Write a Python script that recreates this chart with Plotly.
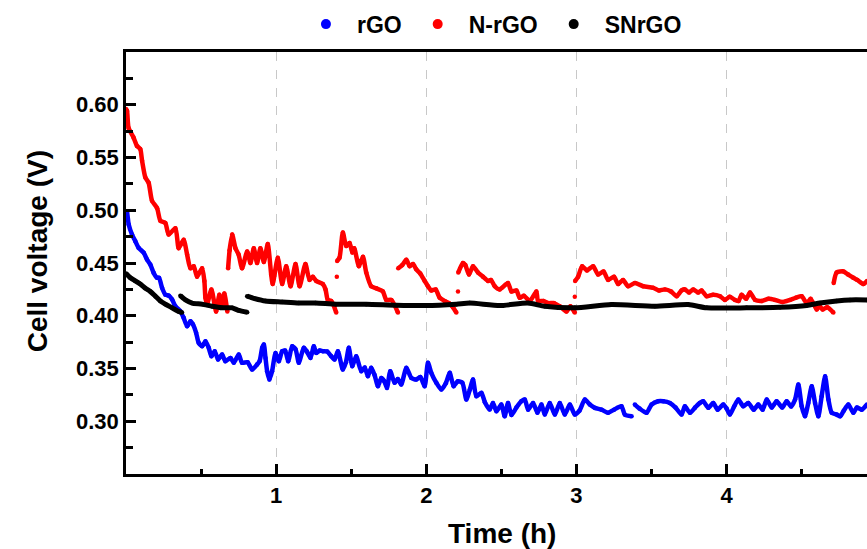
import plotly.graph_objects as go

# ---- data; None marks a break in the record ----
rgo_t = [0.0, 0.007, 0.018, 0.04, 0.062, 0.084, 0.118, 0.14, 0.162, 0.184, 0.207, 0.22, 0.24, 0.262, 0.285,
         0.307, 0.329, 0.362, 0.384, 0.407, 0.429, 0.445, 0.467, 0.484, 0.507, 0.529, 0.551, 0.569, 0.591,
         0.613, 0.64, 0.662, 0.696, 0.718, 0.751, 0.773, 0.81, 0.84, 0.873, 0.89, 0.907, 0.918, 0.929, 0.94,
         0.955, 0.973, 0.996, 1.018, 1.04, 1.06, 1.08, 1.107, 1.13, 1.151, 1.184, 1.205, 1.229, 1.251, 1.267,
         1.29, 1.311, 1.34, 1.367, 1.389, 1.411, 1.444, 1.465, 1.484, 1.507, 1.533, 1.567, 1.59, 1.611, 1.633,
         1.655, 1.678, 1.7, 1.72, 1.738, 1.76, 1.789, 1.81, 1.833, 1.867, 1.9, 1.933, 1.96, 1.989, 2.011,
         2.033, 2.067, 2.1, 2.13, 2.156, 2.182, 2.21, 2.24, 2.267, 2.29, 2.311, 2.333, 2.367, 2.39, 2.422,
         2.444, 2.467, 2.5, 2.522, 2.544, 2.567, 2.6, 2.633, 2.656, 2.678, 2.711, 2.74, 2.767, 2.789, 2.822,
         2.856, 2.889, 2.922, 2.956, 2.989, 3.02, 3.056, 3.089, 3.122, 3.167, 3.211, 3.25, 3.3, 3.322, 3.367,
         None, 3.389, 3.42, 3.467, 3.5, 3.544, 3.578, 3.622, 3.66, 3.7, 3.722, 3.756, 3.79, 3.822, 3.844,
         3.878, 3.911, 3.94, 3.978, 4.0, 4.022, 4.05, 4.078, 4.111, 4.144, 4.18, 4.211, 4.24, 4.267, 4.3,
         4.333, 4.37, 4.4, 4.43, 4.456, 4.478, 4.5, 4.522, 4.544, 4.567, 4.589, 4.611, 4.633, 4.656, 4.678,
         4.7, 4.733, 4.756, 4.78, 4.811, 4.844, 4.867, 4.9, 4.935]
rgo_v = [0.499, 0.4976, 0.4865, 0.477, 0.4707, 0.4644, 0.4597, 0.4533, 0.4486, 0.4407, 0.436, 0.436, 0.4265,
         0.420, 0.419, 0.4154, 0.409, 0.4043, 0.398, 0.390, 0.3948, 0.392, 0.3838, 0.3743, 0.3711, 0.3758,
         0.3696, 0.3616, 0.3664, 0.3585, 0.3632, 0.3569, 0.360, 0.3554, 0.3632, 0.3554, 0.356, 0.349, 0.3538,
         0.357, 0.3696, 0.3727, 0.360, 0.3474, 0.3395, 0.3474, 0.3648, 0.3569, 0.3664, 0.367, 0.3569, 0.3711,
         0.368, 0.3554, 0.3696, 0.366, 0.360, 0.3711, 0.3648, 0.367, 0.3664, 0.366, 0.3616, 0.3585, 0.3664,
         0.349, 0.356, 0.3696, 0.3522, 0.3616, 0.3474, 0.351, 0.3427, 0.3506, 0.344, 0.3332, 0.341, 0.338,
         0.3316, 0.3474, 0.3364, 0.340, 0.3348, 0.3506, 0.3411, 0.3395, 0.342, 0.3332, 0.3555, 0.3459, 0.3364,
         0.330, 0.336, 0.3459, 0.3332, 0.338, 0.3364, 0.3206, 0.330, 0.3395, 0.3237, 0.3269, 0.318, 0.3111,
         0.3174, 0.3095, 0.3158, 0.3047, 0.3174, 0.306, 0.313, 0.319, 0.3206, 0.311, 0.3174, 0.308, 0.3158,
         0.3063, 0.3174, 0.3063, 0.3174, 0.3063, 0.3158, 0.3063, 0.310, 0.3206, 0.3158, 0.3127, 0.311, 0.308,
         0.311, 0.3142, 0.3063, 0.3047, None, 0.3158, 0.312, 0.308, 0.3158, 0.319, 0.319, 0.3174, 0.313,
         0.3063, 0.3142, 0.308, 0.313, 0.3174, 0.319, 0.3127, 0.3174, 0.311, 0.3158, 0.312, 0.3063, 0.314,
         0.3206, 0.3142, 0.3174, 0.311, 0.3158, 0.311, 0.3206, 0.313, 0.319, 0.313, 0.319, 0.314, 0.3206,
         0.3348, 0.3142, 0.3047, 0.3174, 0.3332, 0.3174, 0.3047, 0.3237, 0.3427, 0.3206, 0.308, 0.3063, 0.3047,
         0.310, 0.3158, 0.308, 0.313, 0.311, 0.3158]

nrgo_t = [0.0, 0.007, 0.017, 0.05, 0.073, 0.095, 0.107, 0.129, 0.151, 0.173, 0.207, 0.229, 0.262, 0.284, 0.329,
          0.351, 0.384, 0.407, 0.429, 0.451, 0.473, 0.507, 0.522, 0.529, 0.54, 0.569, 0.6, 0.622, 0.64, 0.655,
          0.675, None,
          0.68, 0.69, 0.707, 0.729, 0.75, 0.773, 0.807, 0.829, 0.851, 0.873, 0.895, 0.918, 0.944, 0.967, 0.977,
          1.011, 1.04, 1.067, 1.096, 1.129, 1.156, 1.195, 1.222, 1.244, 1.267, 1.311, 1.329, 1.344, 1.367,
          1.38, 1.4, None,
          1.404, None,
          1.406, 1.422, 1.444, 1.467, 1.489, 1.507, 1.52, 1.551, 1.578, 1.6, 1.633, 1.667, 1.711, 1.733, 1.767,
          1.811, None,
          1.813, 1.84, 1.867, 1.889, 1.911, 1.933, 1.96, 1.989, 2.011, 2.033, 2.062, 2.089, 2.122, 2.15, 2.178,
          2.2, None,
          2.211, None,
          2.213, 2.244, 2.26, 2.284, 2.311, 2.344, 2.378, 2.411, 2.43, 2.456, 2.489, 2.544, 2.567, 2.6, 2.622,
          2.65, 2.689, 2.733, 2.744, 2.78, 2.811, 2.85, 2.889, 2.933, 2.96, 2.989, None,
          2.989, None,
          2.991, 3.011, 3.038, 3.07, 3.111, 3.144, 3.18, 3.211, 3.25, 3.278, 3.31, 3.344, 3.39, 3.444, 3.511,
          3.55, 3.589, 3.63, 3.667, 3.7, 3.722, 3.75, 3.778, 3.81, 3.833, 3.867, 3.91, 3.956, 3.989, 4.02,
          4.056, 4.08, 4.1, 4.13, 4.156, 4.19, 4.233, 4.28, 4.322, 4.37, 4.422, 4.46, 4.5, 4.533, 4.56, 4.6,
          4.62, 4.64, 4.67, 4.711, None,
          4.713, 4.733, 4.778, 4.81, 4.844, 4.87, 4.911, 4.935]
nrgo_v = [0.596, 0.594, 0.578, 0.569, 0.561, 0.558, 0.547, 0.531, 0.526, 0.509, 0.502, 0.490, 0.488, 0.477,
          0.483, 0.464, 0.472, 0.458, 0.445, 0.447, 0.437, 0.445, 0.433, 0.417, 0.411, 0.425, 0.404, 0.420,
          0.408, 0.421, 0.404, None,
          0.445, 0.462, 0.477, 0.464, 0.458, 0.445, 0.461, 0.450, 0.464, 0.450, 0.464, 0.451, 0.468, 0.439,
          0.430, 0.455, 0.430, 0.447, 0.428, 0.449, 0.428, 0.449, 0.434, 0.437, 0.433, 0.430, 0.425, 0.415,
          0.414, 0.411, 0.403, None,
          0.437, None,
          0.452, 0.455, 0.479, 0.466, 0.469, 0.460, 0.464, 0.447, 0.456, 0.441, 0.428, 0.426, 0.423, 0.415,
          0.415, 0.403, None,
          0.445, 0.448, 0.453, 0.447, 0.449, 0.444, 0.440, 0.433, 0.428, 0.424, 0.425, 0.417, 0.414, 0.412,
          0.408, 0.403, None,
          0.423, None,
          0.441, 0.450, 0.448, 0.439, 0.447, 0.441, 0.437, 0.433, 0.434, 0.428, 0.425, 0.431, 0.423, 0.424,
          0.417, 0.419, 0.414, 0.423, 0.414, 0.414, 0.412, 0.412, 0.409, 0.404, 0.409, 0.403, None,
          0.418, None,
          0.433, 0.437, 0.447, 0.443, 0.447, 0.439, 0.442, 0.434, 0.437, 0.430, 0.434, 0.428, 0.431, 0.428,
          0.4265, 0.424, 0.425, 0.423, 0.4185, 0.424, 0.425, 0.422, 0.425, 0.422, 0.424, 0.4185, 0.420,
          0.4185, 0.415, 0.418, 0.415, 0.414, 0.420, 0.416, 0.422, 0.415, 0.414, 0.416, 0.415, 0.413, 0.415,
          0.417, 0.4185, 0.412, 0.416, 0.406, 0.409, 0.406, 0.408, 0.403, None,
          0.431, 0.441, 0.442, 0.439, 0.436, 0.434, 0.430, 0.433]

snrgo_t = [0.0, 0.029, 0.062, 0.095, 0.129, 0.162, 0.196, 0.229, 0.262, 0.307, 0.351, 0.373, None,
           0.362, 0.396, 0.44, 0.507, 0.573, 0.64, 0.707, 0.751, 0.807, None,
           0.807, 0.84, 0.929, 1.04, 1.151, 1.262, 1.4, 1.6, 1.8, 2.0, 2.2, 2.289, 2.489, 2.678, 2.789, 2.989,
           3.233, 3.522, 3.744, 3.867, 4.133, 4.356, 4.533, 4.622, 4.733, 4.822, 4.935]
snrgo_v = [0.440, 0.436, 0.433, 0.430, 0.426, 0.423, 0.4185, 0.414, 0.411, 0.4075, 0.404, 0.403, None,
           0.419, 0.415, 0.412, 0.411, 0.409, 0.4075, 0.4075, 0.405, 0.4033, None,
           0.4185, 0.417, 0.414, 0.413, 0.412, 0.412, 0.411, 0.411, 0.410, 0.4097, 0.411, 0.412, 0.4097, 0.412,
           0.409, 0.4075, 0.4106, 0.409, 0.4106, 0.4075, 0.4075, 0.408, 0.4097, 0.412, 0.414, 0.415, 0.415]

series_names = ["rGO", "N-rGO", "SNrGO"]
series_colors = ["#0000ff", "#ff0000", "#000000"]
x_tick_vals = [1, 2, 3, 4]
y_tick_vals = [0.30, 0.35, 0.40, 0.45, 0.50, 0.55, 0.60]
x_title = "Time (h)"
y_title = "Cell voltage (V)"

FONT = "Liberation Sans, Arial, sans-serif"
TITLE_FONT = dict(family=FONT, size=28, color="black", weight="bold")

fig = go.Figure()
for name, color, t, v, lw in zip(series_names, series_colors,
                                 [rgo_t, nrgo_t, snrgo_t], [rgo_v, nrgo_v, snrgo_v], [4.5, 4.5, 5]):
    fig.add_trace(go.Scatter(x=t, y=v, mode="lines+markers", name=name, showlegend=False,
                             line=dict(color=color, width=lw, shape="spline", smoothing=0.6),
                             marker=dict(color=color, size=4.5), connectgaps=False,
                             hoverinfo="skip"))
# legend entries shown as dots
for name, color in zip(series_names, series_colors):
    fig.add_trace(go.Scatter(x=[None], y=[None], mode="markers", name=name,
                             marker=dict(color=color, size=10)))

fig.update_layout(
    width=867, height=549,
    margin=dict(l=126, r=0, t=52, b=75),
    paper_bgcolor="white", plot_bgcolor="white",
    font=dict(family=FONT, size=22, color="black", weight="bold"),
    showlegend=True,
    legend=dict(orientation="h", x=0.228, xanchor="left", y=1.066, yanchor="middle",
                font=dict(family=FONT, size=23, color="black", weight="bold"),
                itemwidth=52, bgcolor="rgba(0,0,0,0)"),
    annotations=[
        dict(text=x_title, xref="paper", yref="paper", x=0.507, y=-0.142,
             xanchor="center", yanchor="middle", showarrow=False, font=TITLE_FONT),
        dict(text=y_title, xref="paper", yref="paper", x=-0.120, y=0.528, textangle=-90,
             xanchor="center", yanchor="middle", showarrow=False, font=TITLE_FONT),
    ],
)
fig.update_xaxes(
    range=[0, 4.935], showline=True, linecolor="black", linewidth=2.5, mirror=True, automargin=False,
    tickvals=x_tick_vals, ticks="inside", ticklen=10, tickwidth=2.5, tickcolor="black",
    showgrid=True, gridcolor="#c8c8c8", griddash="dash", gridwidth=1, zeroline=False,
    minor=dict(dtick=0.5, tick0=0, ticks="inside", ticklen=5, tickwidth=2.5, tickcolor="black", showgrid=False),
    tickfont=dict(family=FONT, size=22, color="black", weight="bold"),
)
fig.update_yaxes(
    range=[0.25, 0.65], showline=True, linecolor="black", linewidth=2.5, mirror=False, automargin=False,
    tickvals=y_tick_vals, tickformat=".2f", ticks="inside", ticklen=10, tickwidth=2.5, tickcolor="black",
    showgrid=False, zeroline=False,
    minor=dict(dtick=0.025, tick0=0.25, ticks="inside", ticklen=7, tickwidth=2.5, tickcolor="black", showgrid=False),
    tickfont=dict(family=FONT, size=22, color="black", weight="bold"),
)

fig.write_html("out.html", config={"displayModeBar": False},
               post_script="document.body.style.margin='0';document.body.style.overflow='hidden';")
